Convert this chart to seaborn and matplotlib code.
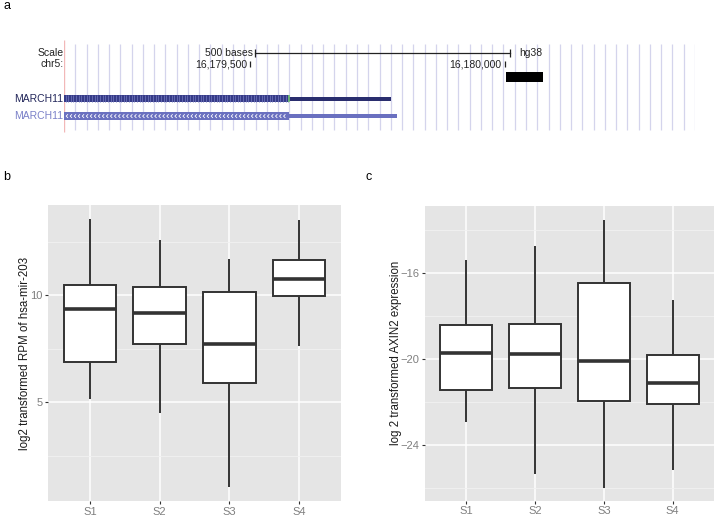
import numpy as np
import pandas as pd
import matplotlib
matplotlib.use("Agg")
import matplotlib.pyplot as plt
from matplotlib.path import Path
import seaborn as sns

plt.rcParams['font.family'] = ['Liberation Sans', 'DejaVu Sans']

# ---------------- data ----------------
samples = ["S1", "S2", "S3", "S4"]
# five-number summaries: min, Q1, median, Q3, max
mir203_S1 = [5.15, 6.90, 9.36, 10.48, 13.55]
mir203_S2 = [4.49, 7.74, 9.16, 10.40, 12.58]
mir203_S3 = [1.03, 5.90, 7.72, 10.17, 11.70]
mir203_S4 = [7.65, 9.97, 10.76, 11.64, 13.52]

axin2_S1 = [-22.95, -21.43, -19.71, -18.43, -15.38]
axin2_S2 = [-25.36, -21.34, -19.77, -18.35, -14.75]
axin2_S3 = [-26.03, -21.96, -20.11, -16.44, -13.51]
axin2_S4 = [-25.17, -22.10, -21.12, -19.83, -17.24]

mir_ticks = [5, 10]
axin_ticks = [-24, -20, -16]

# genome browser (hg38, chr5)
view_start = 16179135
view_end = 16180373
coord_ticks = [16179500, 16180000]
coord_labels = ["16,179,500", "16,180,000"]
scale_end = 16180010
scale_len = 500
gene_name = "MARCH11"
cds_start = 16179135
cds_end = 16179576
tx1_end = 16179776
tx2_end = 16179789
feature_start = 16180003
feature_end = 16180074

# ---------------- figure ----------------
W, H = 714, 516
fig = plt.figure(figsize=(W / 100, H / 100), dpi=100)


def px_axes(x0, y0, x1, y1):
    return fig.add_axes([x0 / W, 1 - y1 / H, (x1 - x0) / W, (y1 - y0) / H])


# ---------------- panel a ----------------
axa = px_axes(64, 30, 695, 135)
axa.set_xlim(view_start, view_end)
axa.set_ylim(135, 30)
axa.axis("off")

grid_x = np.linspace(view_start, view_end, 57)
axa.vlines(grid_x[1:], 44, 130, color="#d4d4ec", lw=0.9, zorder=0)
axa.vlines(grid_x[0], 40, 132, color="#f2b8b8", lw=1.0, zorder=0)

fs_a = 7.5
txt_kw = dict(fontsize=fs_a, color="#222222", clip_on=False)
axa.text(view_start - 1, 53, "Scale", ha="right", va="center", **txt_kw)
axa.text(view_start - 1, 64, "chr5:", ha="right", va="center", **txt_kw)

scale_start = scale_end - scale_len
axa.plot([scale_start, scale_end], [52.7, 52.7], color="#222222", lw=0.9)
axa.vlines([scale_start, scale_end], 48.5, 57, color="#222222", lw=0.9)
axa.text(scale_start - 4, 53, f"{scale_len} bases", ha="right", va="center", **txt_kw)
axa.text(scale_end + 18, 53, "hg38", ha="left", va="center", **txt_kw)
for t, lab in zip(coord_ticks, coord_labels):
    axa.vlines(t, 60.5, 67, color="#222222", lw=0.9)
    axa.text(t - 6, 64.5, lab, ha="right", va="center", **txt_kw)

axa.fill_between([feature_start, feature_end], 71.7, 82.3, color="#000000", lw=0)

# track 1
navy = "#2a2e6e"
axa.fill_between([cds_start, cds_end], 94.8, 102.3, color="#363b88", lw=0)
stripes = np.arange(cds_start + 3, cds_end, 5.2)
axa.vlines(stripes, 94.8, 102.3, color="#6a70b8", lw=0.6)
axa.fill_between([cds_end, tx1_end], 96.8, 100.6, color=navy, lw=0)
axa.vlines(cds_end, 94.8, 102.3, color="#6cc06c", lw=1.2)
axa.text(view_start - 1, 98.5, gene_name, ha="right", va="center",
         fontsize=fs_a, color="#22265a", clip_on=False)

# track 2
light = "#6a70c0"
axa.fill_between([cds_start, cds_end], 112.3, 120.0, color=light, lw=0)
axa.fill_between([cds_end, tx2_end], 114.2, 118.2, color=light, lw=0)
chev = Path([(0.5, 1.0), (-0.5, 0.0), (0.5, -1.0)], [Path.MOVETO, Path.LINETO, Path.LINETO])
chev_x = np.arange(cds_start + 6, cds_end - 3, 7.9)
axa.scatter(chev_x, np.full(len(chev_x), 116.1), marker=chev, s=7,
            facecolors="none", edgecolors="white", linewidths=0.6, zorder=3)
axa.text(view_start - 1, 116.3, gene_name, ha="right", va="center",
         fontsize=fs_a, color="#7a80c8", clip_on=False)

# ---------------- panels b, c ----------------
df_b = pd.DataFrame({
    "sample": np.repeat(samples, 5),
    "value": mir203_S1 + mir203_S2 + mir203_S3 + mir203_S4,
})
df_c = pd.DataFrame({
    "sample": np.repeat(samples, 5),
    "value": axin2_S1 + axin2_S2 + axin2_S3 + axin2_S4,
})

axb = px_axes(48, 205, 341, 501)
axc = px_axes(425, 205.7, 714, 500.7)


def gg_box(ax, df, ylim, ticks, minor, ylabel, labelx):
    ax.set_facecolor("#E5E5E5")
    ax.set_axisbelow(True)
    sns.boxplot(data=df, x="sample", y="value", order=samples, ax=ax,
                color="white", linecolor="#333333", linewidth=1.4, width=0.75,
                whis=(0, 100), showcaps=False, fliersize=0, saturation=1,
                medianprops=dict(linewidth=2.6, color="#333333"))
    ax.set_xlim(-0.6, 3.6)
    ax.set_ylim(*ylim)
    ax.set_yticks(ticks)
    ax.set_yticks(minor, minor=True)
    ax.grid(which="major", color="white", lw=1.1)
    ax.grid(which="minor", axis="y", color="#F2F2F2", lw=0.6)
    for s in ax.spines.values():
        s.set_visible(False)
    ax.tick_params(which="major", length=2.5, width=0.8, color="#333333",
                   labelcolor="#7F7F7F", labelsize=8, pad=1.5)
    ax.tick_params(which="minor", length=0)
    ax.set_xlabel("")
    ax.set_ylabel(ylabel, fontsize=8.3, color="#1a1a1a")
    ax.yaxis.set_label_coords(labelx, 0.5)


gg_box(axb, df_b, (0.39, 14.22), mir_ticks, [2.5, 7.5, 12.5],
       "log2 transformed RPM of hsa-mir-203", -17 / 293)
gg_box(axc, df_c, (-26.6, -12.85), axin_ticks, [-26, -22, -18, -14],
       "log 2 transformed AXIN2 expression", -23 / 289)

fig.text(3 / W, 1 - 6 / H, "a", fontsize=9, va="center", ha="left")
fig.text(3 / W, 1 - 177 / H, "b", fontsize=9, va="center", ha="left")
fig.text(365 / W, 1 - 177 / H, "c", fontsize=9, va="center", ha="left")

fig.savefig("out.png", dpi=100)
